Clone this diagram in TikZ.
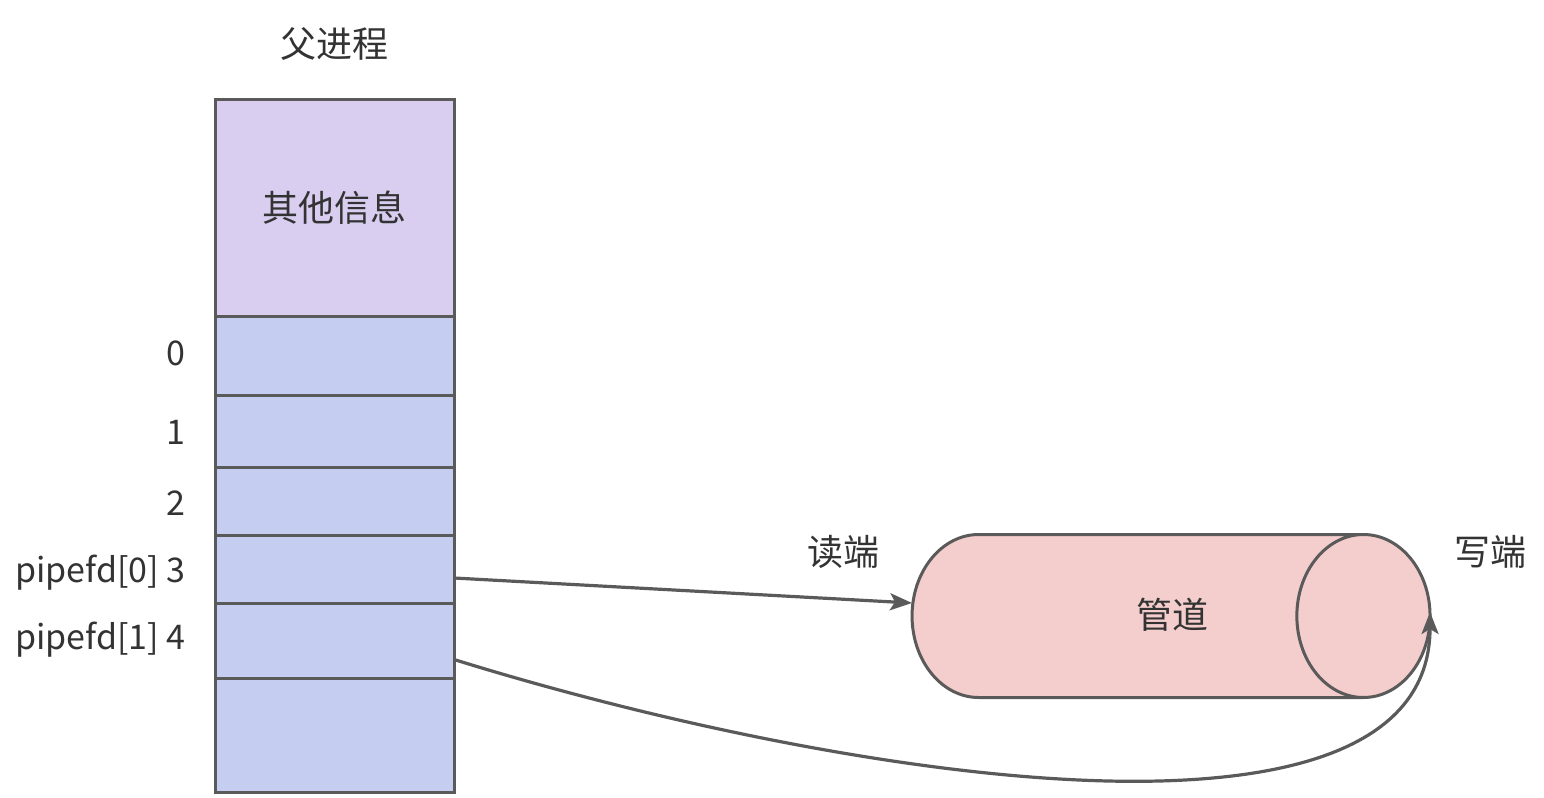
\documentclass[tikz,border=0pt]{standalone}
\usepackage{fontspec}
\setmainfont{Noto Sans CJK SC}
\usepackage{tikz}
\usetikzlibrary{arrows.meta,positioning,shapes.geometric}
\definecolor{linegray}{HTML}{5A5A5A}
\definecolor{txtgray}{HTML}{333333}
\definecolor{infopurple}{HTML}{D9CEF0}
\definecolor{rowblue}{HTML}{C5CDF0}
\definecolor{pipepink}{HTML}{F4CDCD}
\tikzset{
  cell/.style={draw=linegray,line width=1.5pt,fill=rowblue,minimum width=119.5pt,inner sep=0pt,outer sep=0pt},
  fdlabel/.style={text=txtgray,font=\fontsize{17}{20}\selectfont,inner sep=0pt,anchor=east},
  conn/.style={draw=linegray,line width=1.6pt,-{Stealth[length=11pt,width=8.5pt,inset=2.5pt]}}
}

\begin{document}
\begin{tikzpicture}[x=0.5pt,y=-0.5pt,text=txtgray,font=\fontsize{18}{21}\selectfont]
\useasboundingbox (0,0) rectangle (1544,798);
% process table
\node[cell,fill=infopurple,minimum height=108.5pt] (info) at (334.5,207.5) {其他信息};
\node[cell,minimum height=39.5pt,below=0pt of info] (r0) {};
\node[cell,minimum height=36pt,below=0pt of r0] (r1) {};
\node[cell,minimum height=34pt,below=0pt of r1] (r2) {};
\node[cell,minimum height=34pt,below=0pt of r2] (r3) {};
\node[cell,minimum height=37.5pt,below=0pt of r3] (r4) {};
\node[cell,minimum height=57pt,below=0pt of r4] (r5) {};
\node[inner sep=0pt,above=19pt of info] (parent) {父进程};
% fd numbers
\node[fdlabel] (l0) at (186,353) {0};
\node[fdlabel] (l1) at (186,432) {1};
\node[fdlabel] (l2) at (186,503) {2};
\node[fdlabel] (l3) at (186,573) {pipefd[0] 3};
\node[fdlabel] (l4) at (186,640) {pipefd[1] 4};
% pipe (text set apart, centred on the body)
\node[cylinder,shape border rotate=0,draw=linegray,line width=1.5pt,fill=pipepink,
  minimum height=259pt,minimum width=81.5pt,aspect=4,inner sep=0pt,outer sep=0pt] (pipe) at (1137,616) {\phantom{管道}};
\node (pipetext) at (1172,615) {管道};
\node (rd) at (843,552) {读端};
\node (wr) at (1490,552) {写端};
% connectors
\draw[conn] ([yshift=-4.5pt]r3.east) -- ([yshift=6.5pt]pipe.west);
\draw[conn] ([yshift=-9.5pt]r4.east) .. controls +(380,118) and +(0,262) .. ([yshift=2pt]pipe.east);
\end{tikzpicture}
\end{document}
